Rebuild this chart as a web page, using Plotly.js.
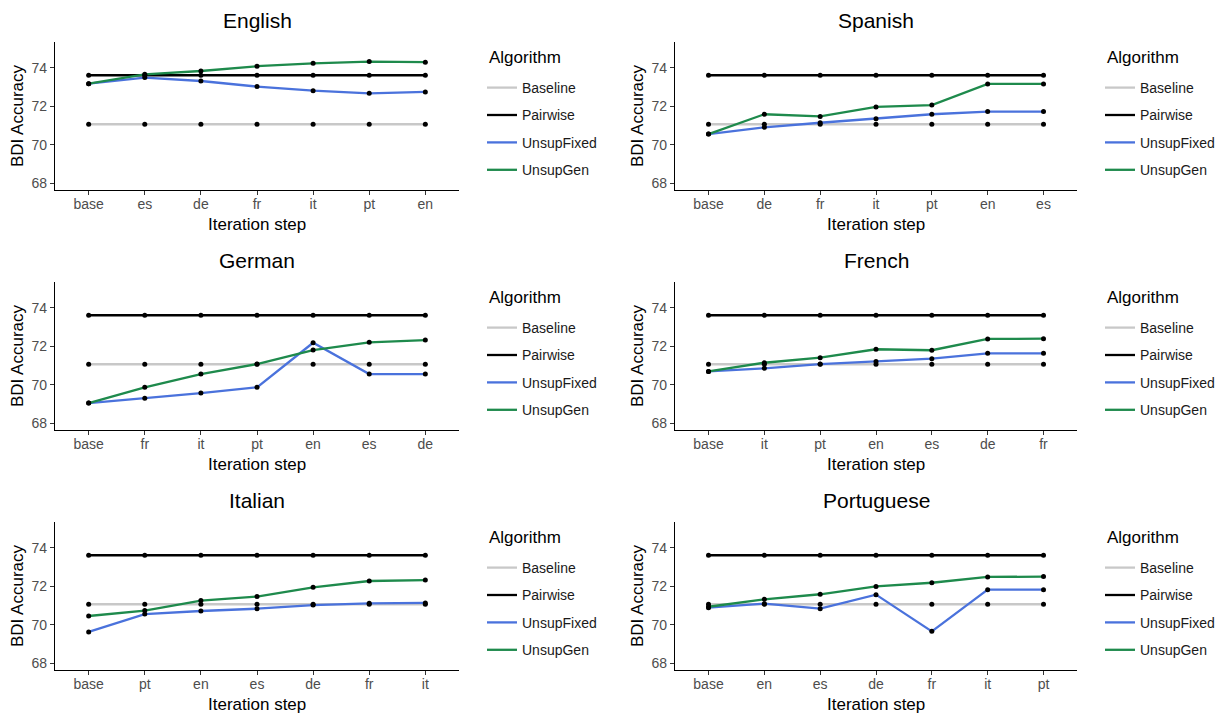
<!DOCTYPE html>
<html>
<head>
<meta charset="utf-8">
<script src="https://cdn.plot.ly/plotly-3.0.1.min.js"></script>
<style>html,body{margin:0;padding:0;background:#fff;}#chart{width:1227px;height:716px;}</style>
</head>
<body>
<div id="chart"></div>
<script>
// ---- data ----
const panelNames = ['English', 'Spanish', 'German', 'French', 'Italian', 'Portuguese'];
const seriesNames = ['Baseline', 'Pairwise', 'UnsupFixed', 'UnsupGen'];
const legendTitle = 'Algorithm';

const stepsEnglish    = ['base', 'es', 'de', 'fr', 'it', 'pt', 'en'];
const stepsSpanish    = ['base', 'de', 'fr', 'it', 'pt', 'en', 'es'];
const stepsGerman     = ['base', 'fr', 'it', 'pt', 'en', 'es', 'de'];
const stepsFrench     = ['base', 'it', 'pt', 'en', 'es', 'de', 'fr'];
const stepsItalian    = ['base', 'pt', 'en', 'es', 'de', 'fr', 'it'];
const stepsPortuguese = ['base', 'en', 'es', 'de', 'fr', 'it', 'pt'];

const baselineValue = 71.07;
const pairwiseValue = 73.62;

const fixedEnglish    = [73.18, 73.50, 73.32, 73.03, 72.82, 72.68, 72.75];
const genEnglish      = [73.18, 73.67, 73.84, 74.09, 74.24, 74.33, 74.30];
const fixedSpanish    = [70.56, 70.91, 71.15, 71.36, 71.59, 71.73, 71.73];
const genSpanish      = [70.56, 71.59, 71.48, 71.97, 72.07, 73.17, 73.17];
const fixedGerman     = [69.05, 69.30, 69.57, 69.87, 72.19, 70.56, 70.56];
const genGerman       = [69.05, 69.87, 70.56, 71.08, 71.81, 72.21, 72.33];
const fixedFrench     = [70.70, 70.86, 71.08, 71.22, 71.36, 71.64, 71.64];
const genFrench       = [70.70, 71.15, 71.41, 71.85, 71.80, 72.39, 72.40];
const fixedItalian    = [69.63, 70.56, 70.72, 70.84, 71.03, 71.12, 71.14];
const genItalian      = [70.46, 70.74, 71.26, 71.47, 71.95, 72.28, 72.33];
const fixedPortuguese = [70.89, 71.10, 70.84, 71.57, 69.66, 71.83, 71.83];
const genPortuguese   = [70.94, 71.33, 71.59, 72.00, 72.19, 72.49, 72.51];

const yTicks = [68, 70, 72, 74];

// ---- build ----
const W = 1227, H = 716;
const panels = [
  {steps: stepsEnglish, fixed: fixedEnglish, gen: genEnglish},
  {steps: stepsSpanish, fixed: fixedSpanish, gen: genSpanish},
  {steps: stepsGerman, fixed: fixedGerman, gen: genGerman},
  {steps: stepsFrench, fixed: fixedFrench, gen: genFrench},
  {steps: stepsItalian, fixed: fixedItalian, gen: genItalian},
  {steps: stepsPortuguese, fixed: fixedPortuguese, gen: genPortuguese}
];
const colors = {Baseline: '#c8c8c8', Pairwise: '#000000', UnsupFixed: '#4a72dc', UnsupGen: '#1e8a4c'};
const colPx = [[55, 459], [675, 1077]];
const rowPx = [[42, 190], [282, 430], [522, 670]];
const legendX = [482, 1100];
const legendTitleX = [487, 1105];
const FONT = 'Liberation Sans, Arial, Helvetica, sans-serif';

const traces = [];
const markerTraces = [];
const layout = {
  width: W, height: H,
  margin: {l: 0, r: 0, t: 0, b: 0},
  paper_bgcolor: '#fff', plot_bgcolor: '#fff',
  font: {family: FONT, color: '#000'},
  showlegend: true,
  annotations: []
};

panels.forEach((p, i) => {
  const r = Math.floor(i / 2), c = i % 2;
  const n = i + 1;
  const xa = 'x' + (n === 1 ? '' : n), ya = 'y' + (n === 1 ? '' : n);
  const xKey = 'xaxis' + (n === 1 ? '' : n), yKey = 'yaxis' + (n === 1 ? '' : n);
  const legKey = 'legend' + (n === 1 ? '' : n);
  const x0 = colPx[c][0] / W, x1 = colPx[c][1] / W;
  const y0 = 1 - rowPx[r][1] / H, y1 = 1 - rowPx[r][0] / H;

  layout[xKey] = {
    domain: [x0, x1], anchor: ya, type: 'category',
    categoryorder: 'array', categoryarray: p.steps,
    range: [-0.6, 6.6], fixedrange: true,
    showline: true, linecolor: '#000', linewidth: 1.1, mirror: false,
    ticks: 'outside', ticklen: 4, tickcolor: '#333', tickwidth: 1.1,
    ticklabelstandoff: -3,
    showgrid: false, zeroline: false,
    tickfont: {family: FONT, size: 14, color: '#4d4d4d'}
  };
  layout[yKey] = {
    domain: [y0, y1], anchor: xa,
    range: [67.65, 75.35], fixedrange: true,
    tickvals: yTicks, ticktext: yTicks.map(String),
    showline: true, linecolor: '#000', linewidth: 1.1,
    ticks: 'outside', ticklen: 4, tickcolor: '#333', tickwidth: 1.1,
    showgrid: false, zeroline: false,
    tickfont: {family: FONT, size: 14, color: '#4d4d4d'}
  };
  layout[legKey] = {
    x: legendX[c] / W, xanchor: 'left',
    y: 1 - (rowPx[r][0] + 30) / H, yanchor: 'top',
    bgcolor: 'rgba(0,0,0,0)', borderwidth: 0,
    font: {family: FONT, size: 14, color: '#1a1a1a'},
    traceorder: 'grouped', tracegroupgap: 6.2,
    itemclick: false, itemdoubleclick: false
  };

  const values = {
    Baseline: p.steps.map(() => baselineValue),
    Pairwise: p.steps.map(() => pairwiseValue),
    UnsupFixed: p.fixed,
    UnsupGen: p.gen
  };
  seriesNames.forEach(s => {
    traces.push({
      type: 'scatter', mode: 'lines', x: p.steps, y: values[s],
      xaxis: xa, yaxis: ya, name: s, legend: legKey, legendgroup: s + n,
      line: {color: colors[s], width: 2.3}, hoverinfo: 'x+y+name'
    });
    markerTraces.push({
      type: 'scatter', mode: 'markers', x: p.steps, y: values[s],
      xaxis: xa, yaxis: ya, showlegend: false, legend: legKey,
      marker: {color: '#000', size: 5}, hoverinfo: 'skip'
    });
  });

  const cx = (colPx[c][0] + colPx[c][1]) / 2 / W;
  const cy = (rowPx[r][0] + rowPx[r][1]) / 2;
  layout.annotations.push({
    text: panelNames[i], xref: 'paper', yref: 'paper', x: cx, y: 1 - (rowPx[r][0] - 21.5) / H,
    xanchor: 'center', yanchor: 'middle', showarrow: false,
    font: {family: FONT, size: 21, color: '#000'}
  });
  layout.annotations.push({
    text: 'Iteration step', xref: 'paper', yref: 'paper', x: cx, y: 1 - (rowPx[r][1] + 34) / H,
    xanchor: 'center', yanchor: 'middle', showarrow: false,
    font: {family: FONT, size: 17, color: '#000'}
  });
  layout.annotations.push({
    text: 'BDI Accuracy', xref: 'paper', yref: 'paper', x: (colPx[c][0] - 38) / W, y: 1 - cy / H,
    xanchor: 'center', yanchor: 'middle', showarrow: false, textangle: -90,
    font: {family: FONT, size: 17, color: '#000'}
  });
  layout.annotations.push({
    text: legendTitle, xref: 'paper', yref: 'paper', x: legendTitleX[c] / W, y: 1 - (rowPx[r][0] + 15) / H,
    xanchor: 'left', yanchor: 'middle', showarrow: false,
    font: {family: FONT, size: 17, color: '#000'}
  });
});

Plotly.newPlot('chart', traces.concat(markerTraces), layout, {displayModeBar: false});
</script>
</body>
</html>
